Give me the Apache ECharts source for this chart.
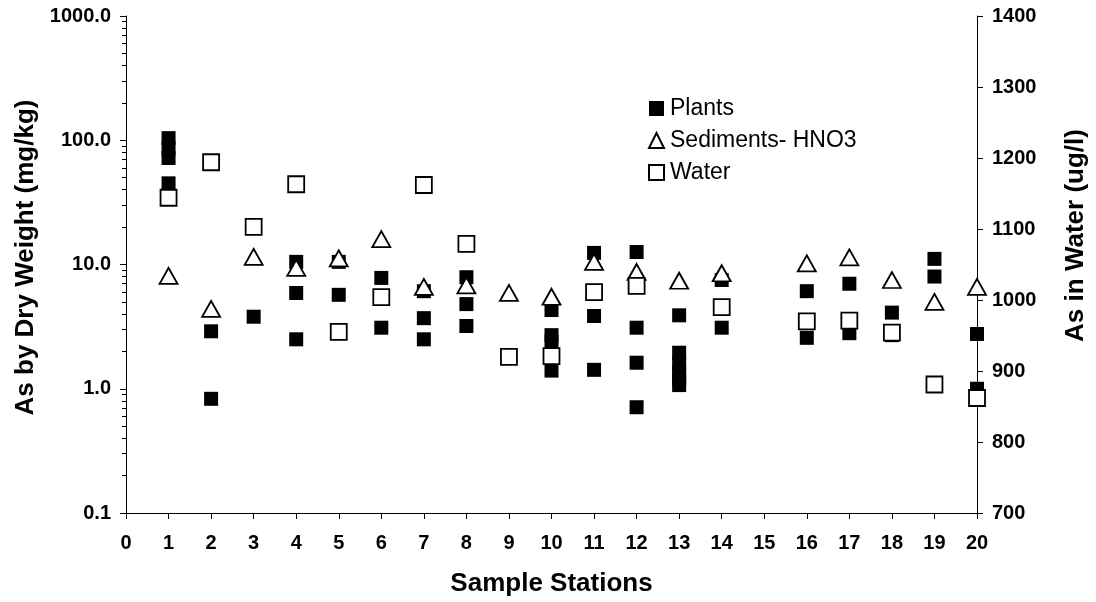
<!DOCTYPE html>
<html>
<head>
<meta charset="utf-8">
<script src="https://cdn.jsdelivr.net/npm/echarts@6/dist/echarts.min.js"></script>
<style>
  html, body { margin: 0; padding: 0; background: #fff; }
  #chart { width: 1096px; height: 602px; }
</style>
</head>
<body>
<div id="chart"></div>
<script>
// [station, As mg/kg dry weight]
const plantsData = [
  [1, 104], [1, 86], [1, 72], [1, 45],
  [2, 2.9], [2, 0.83],
  [3, 3.8],
  [4, 10.5], [4, 5.9], [4, 2.5],
  [5, 10.5], [5, 5.7],
  [6, 7.8], [6, 3.1],
  [7, 6.1], [7, 3.7], [7, 2.5],
  [8, 7.9], [8, 4.8], [8, 3.2],
  [9, 1.8],
  [10, 4.3], [10, 2.7], [10, 2.4], [10, 1.8], [10, 1.4],
  [11, 12.4], [11, 3.85], [11, 1.42],
  [12, 12.6], [12, 3.1], [12, 1.62], [12, 0.71],
  [13, 3.9], [13, 1.95], [13, 1.6], [13, 1.35], [13, 1.2], [13, 1.07],
  [14, 7.5], [14, 3.1],
  [16, 6.1], [16, 2.57],
  [17, 7.0], [17, 2.8],
  [18, 4.1], [18, 2.7],
  [19, 11.1], [19, 8.0],
  [20, 2.76], [20, 1.0]
]

const sedimentData = [
  [1, 8.1], [2, 4.4], [3, 11.5], [4, 9.4], [5, 11.2], [6, 16], [7, 6.6],
  [8, 6.8], [9, 5.9], [10, 5.5], [11, 10.5], [12, 8.7], [13, 7.4], [14, 8.5],
  [16, 10.2], [17, 11.4], [18, 7.5], [19, 5.0], [20, 6.6]
]

// [station, As ug/l]
const waterData = [
  [1, 1144], [2, 1194], [3, 1103], [4, 1163], [5, 955], [6, 1004], [7, 1162],
  [8, 1079], [9, 920], [10, 921], [11, 1011], [12, 1020], [14, 990],
  [16, 970], [17, 971], [18, 954], [19, 881], [20, 862]
]

const seriesNames = ['Plants', 'Sediments- HNO3', 'Water']

// minor ticks of the log axis, as log10 positions (2..9 in each decade)
const decadeExp = [-1, 0, 1, 2]
const minorTicks = []
decadeExp.forEach(e => {
  for (let k = 2; k <= 9; k++) minorTicks.push(e + Math.log10(k))
})

const FONT = 'Liberation Sans, Arial, sans-serif'
const labelStyle = { color: '#000', fontSize: 20, fontWeight: 'bold', fontFamily: FONT }
const nameStyle = { color: '#000', fontSize: 26, fontWeight: 'bold', fontFamily: FONT }
const lineStyle = { color: '#000', width: 1 }

const gridBox = { left: 126, right: 119, top: 16, bottom: 89, outerBoundsMode: 'none' }

const chart = echarts.init(document.getElementById('chart'))
chart.setOption({
  backgroundColor: '#fff',
  animation: false,
  grid: [gridBox, Object.assign({}, gridBox)],
  legend: {
    data: seriesNames,
    orient: 'vertical',
    left: 643,
    top: 92,
    itemWidth: 15,
    itemHeight: 15,
    itemGap: 9,
    textStyle: { color: '#000', fontSize: 23, fontFamily: FONT, padding: [0, 0, 0, 1] }
  },
  xAxis: [
    {
      type: 'value',
      min: 0,
      max: 20,
      interval: 1,
      name: 'Sample Stations',
      nameLocation: 'middle',
      nameGap: 58,
      nameTextStyle: nameStyle,
      axisLine: { lineStyle },
      axisTick: { length: 6, lineStyle },
      axisLabel: Object.assign({ margin: 20 }, labelStyle),
      splitLine: { show: false }
    },
    { type: 'value', gridIndex: 1, min: 0, max: 20, show: false }
  ],
  yAxis: [
    {
      type: 'log',
      logBase: 10,
      min: 0.1,
      max: 1000,
      position: 'left',
      name: 'As by Dry Weight (mg/kg)',
      nameLocation: 'middle',
      nameRotate: 90,
      nameGap: 82,
      nameTextStyle: Object.assign({ padding: [0, 0, 0, 14] }, nameStyle),
      axisLine: { show: true, lineStyle },
      axisTick: { show: true, length: 6, lineStyle },
      axisLabel: Object.assign({ margin: 15, formatter: v => Number(v).toFixed(1) }, labelStyle),
      splitLine: { show: false }
    },
    {
      type: 'value',
      min: 700,
      max: 1400,
      interval: 100,
      position: 'right',
      name: 'As in Water (ug/l)',
      nameLocation: 'middle',
      nameRotate: 90,
      nameGap: 86,
      nameTextStyle: Object.assign({ padding: [0, 0, 0, 58] }, nameStyle),
      axisLine: { show: true, lineStyle },
      axisTick: { show: true, length: 6, lineStyle },
      axisLabel: Object.assign({ margin: 15, formatter: v => String(v) }, labelStyle),
      splitLine: { show: false }
    },
    {
      // log-space overlay carrying only the minor ticks
      type: 'value',
      gridIndex: 1,
      min: -1,
      max: 3,
      position: 'left',
      axisLine: { show: false },
      axisLabel: { show: false },
      axisTick: { show: true, length: 4, customValues: minorTicks, lineStyle },
      splitLine: { show: false }
    }
  ],
  series: [
    {
      name: 'Plants',
      type: 'scatter',
      xAxisIndex: 0,
      yAxisIndex: 0,
      symbol: 'rect',
      symbolSize: 14,
      itemStyle: { color: '#000', opacity: 1 },
      data: plantsData,
      z: 2
    },
    {
      name: 'Sediments- HNO3',
      type: 'scatter',
      xAxisIndex: 0,
      yAxisIndex: 0,
      symbol: 'triangle',
      symbolSize: [18, 16],
      itemStyle: { color: '#fff', borderColor: '#000', borderWidth: 1.8, opacity: 1 },
      data: sedimentData,
      z: 3
    },
    {
      name: 'Water',
      type: 'scatter',
      xAxisIndex: 0,
      yAxisIndex: 1,
      symbol: 'rect',
      symbolSize: 16,
      itemStyle: { color: '#fff', borderColor: '#000', borderWidth: 1.8, opacity: 1 },
      data: waterData,
      z: 4
    }
  ]
})
</script>
</body>
</html>
